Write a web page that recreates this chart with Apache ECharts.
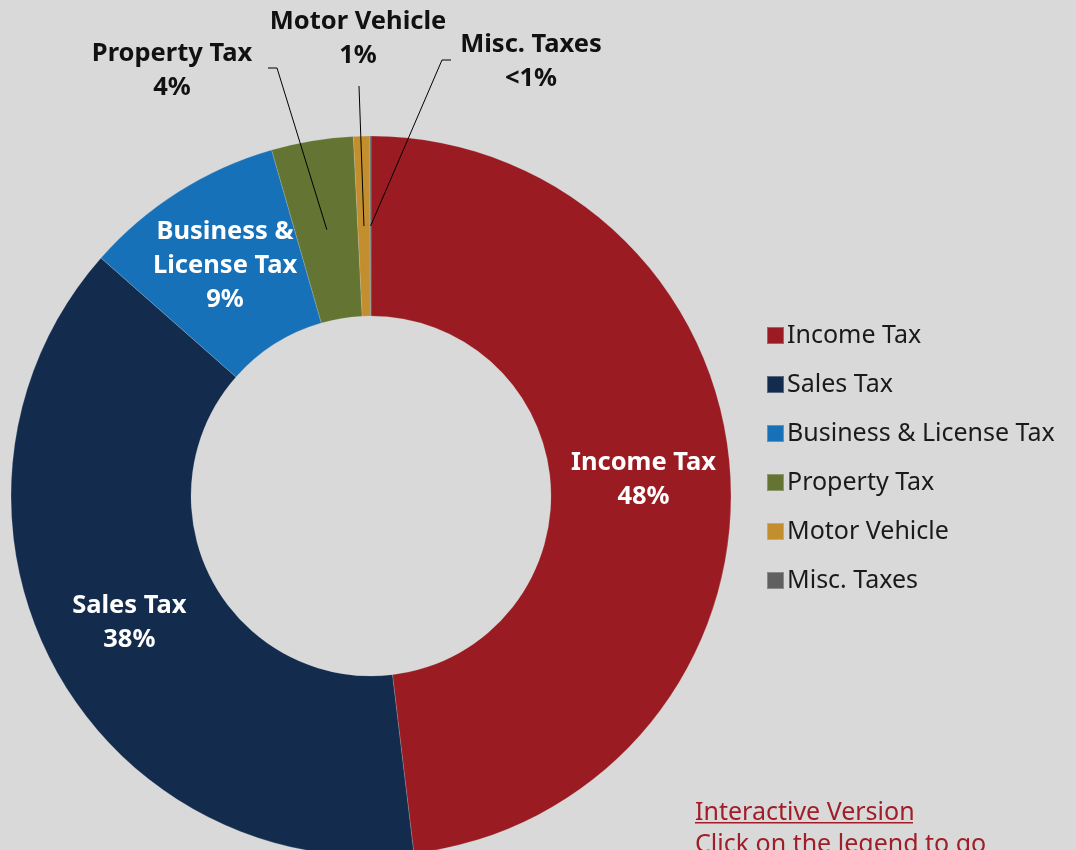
<!DOCTYPE html>
<html>
<head>
<meta charset="utf-8">
<script src="https://cdn.jsdelivr.net/npm/echarts@6/dist/echarts.min.js"></script>
<style>
html,body{margin:0;padding:0;background:#d9d9d9;}
#chart{width:1076px;height:850px;}
</style>
</head>
<body>
<div id="chart"></div>
<script>
const categories = ['Income Tax', 'Sales Tax', 'Business & License Tax', 'Property Tax', 'Motor Vehicle', 'Misc. Taxes'];
const values = [48.1, 38.4, 9.05, 3.67, 0.73, 0.05];
const labelNames = ['Income Tax', 'Sales Tax', 'Business &\nLicense Tax', 'Property Tax', 'Motor Vehicle', 'Misc. Taxes'];
const colors = ['#9a1b22', '#132c4e', '#1771b8', '#647432', '#c38f2e', '#606060'];
const outsideIdx = [3, 4, 5];

const FONT = 'Noto Sans';
const CX = 371, CY = 496, R0 = 180, R1 = 360;

// leader line anchor spots for the small outside labels
const outsideSpots = {
  3: { x: 172, y: 71, line: [[277, 68], [268, 68]] },
  4: { x: 358, y: 39, line: [[359, 86]] },
  5: { x: 531, y: 62, line: [[442, 60], [451, 60]] }
};

const total = values.reduce((a, b) => a + b, 0);
const midAngles = [];
let acc = 0;
values.forEach(v => { midAngles.push((acc + v / 2) / total * 2 * Math.PI); acc += v; });

const fmt = p => {
  const pct = p.percent < 0.5 ? '<1%' : Math.round(p.percent) + '%';
  return labelNames[p.dataIndex] + '\n' + pct;
};

const labelBase = {
  fontFamily: FONT,
  fontWeight: 'bold',
  fontSize: 25.5,
  lineHeight: 34,
  formatter: fmt
};

// main coloured ring with the inside labels
const mainData = categories.map((c, i) => {
  const d = { name: c, value: values[i], itemStyle: { color: colors[i] } };
  if (outsideIdx.includes(i)) d.label = { show: false };
  return d;
});

// overlay ring (transparent) carrying the outside labels and their leader lines above the sectors
const overlayData = categories.map((c, i) => {
  const d = { name: c, value: values[i] };
  if (outsideIdx.includes(i)) {
    d.label = { show: true };
    d.labelLine = { show: true };
  }
  return d;
});

const chart = echarts.init(document.getElementById('chart'));
chart.setOption({
  backgroundColor: '#d9d9d9',
  animation: false,
  legend: {
    orient: 'vertical',
    left: 761,
    top: 318,
    itemWidth: 17,
    itemHeight: 17,
    itemGap: 24,
    icon: 'rect',
    selectedMode: false,
    textStyle: { fontFamily: FONT, fontSize: 25, color: '#1a1a1a', padding: [0, 0, 0, -2] },
    data: categories
  },
  series: [{
    type: 'pie',
    z: 2,
    center: [CX, CY],
    radius: [R0, R1],
    startAngle: 90,
    clockwise: true,
    avoidLabelOverlap: false,
    itemStyle: { borderColor: 'rgba(217,217,217,0.35)', borderWidth: 0.6 },
    label: Object.assign({ show: true, position: 'inside', color: '#ffffff' }, labelBase),
    labelLine: { show: false },
    data: mainData
  }, {
    type: 'pie',
    z: 5,
    silent: true,
    center: [CX, CY],
    radius: [R0, R1],
    startAngle: 90,
    clockwise: true,
    avoidLabelOverlap: false,
    itemStyle: { color: 'rgba(0,0,0,0)', borderWidth: 0 },
    label: Object.assign({ show: false, position: 'outside', color: '#111111' }, labelBase),
    labelLine: { show: false, lineStyle: { color: '#000000', width: 1 } },
    labelLayout: params => {
      const i = params.dataIndex;
      const s = outsideSpots[i];
      if (!s) return {};
      const a = midAngles[i];
      const rm = (R0 + R1) / 2;
      const start = [CX + rm * Math.sin(a), CY - rm * Math.cos(a)];
      return {
        x: s.x, y: s.y, align: 'center', verticalAlign: 'middle',
        labelLinePoints: [start].concat(s.line)
      };
    },
    data: overlayData
  }],
  graphic: [
    { type: 'text', left: 695, top: 800, style: { text: 'Interactive Version', fontFamily: FONT, fontSize: 25, fill: '#a01e28' } },
    { type: 'rect', left: 695, top: 822, shape: { width: 218, height: 1.5 }, style: { fill: '#a01e28' } },
    { type: 'text', left: 695, top: 832, style: { text: 'Click on the legend to go', fontFamily: FONT, fontSize: 25, fill: '#a01e28' } }
  ]
});
</script>
</body>
</html>
